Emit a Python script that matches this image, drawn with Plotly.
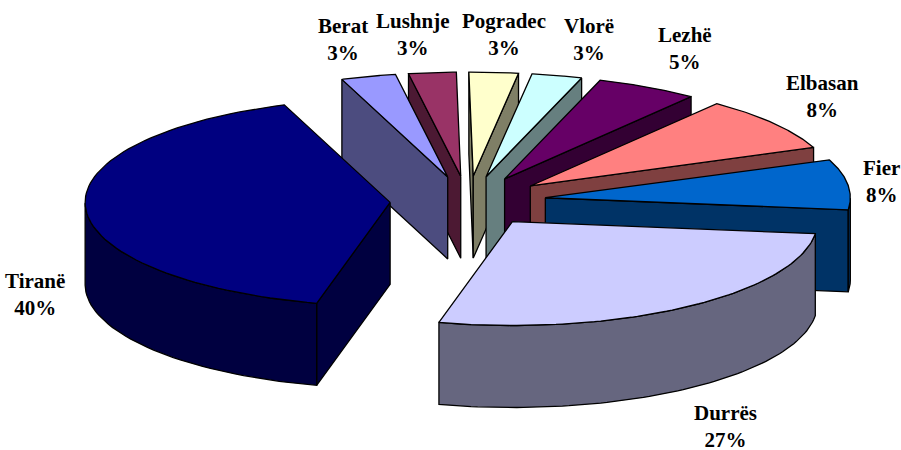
import numpy as np
import plotly.graph_objects as go

cities = ["Tiranë", "Durrës", "Fier", "Elbasan", "Lezhë", "Vlorë", "Pogradec", "Lushnje", "Berat"]
shares = [40.49, 27.01, 7.9, 8.49, 5.4, 2.7, 2.6, 2.51, 2.9]
colors = ["#000080", "#CCCCFF", "#0066CC", "#FF8080", "#660066", "#CCFFFF", "#FFFFCC", "#993366", "#9999FF"]
label_x = [35, 725, 881, 822, 685, 589, 504, 413, 343]
label_y = [294, 426, 181, 96, 48, 39, 34, 34, 39]

# projection of the tilted pie, in page pixels
CX, CY = 468, 201
RX, RY = 305, 104
DEPTH = 82
EXPLODE = 78
EXPLODE_TILT = 0.32
END_ANGLE = 339.7  # clockwise from straight up, where Tiranë ends


def darker(hex_color):
    rgb = [int(hex_color[i:i + 2], 16) // 2 for i in (1, 3, 5)]
    return "#%02x%02x%02x" % tuple(rgb)


def polygon(fig, xs, ys, color):
    fig.add_trace(go.Scatter(
        x=list(xs) + [xs[0]], y=list(ys) + [ys[0]],
        mode="lines", fill="toself", fillcolor=color,
        line=dict(color="black", width=1.3),
        hoverinfo="skip", showlegend=False,
    ))


fig = go.Figure()

# slices run clockwise, the first one after Tiranë is Berat
total = sum(shares)
a = END_ANGLE - shares[0] / total * 360
angle = {0: (a, END_ANGLE)}
a = END_ANGLE - 360
for i in [8, 7, 6, 5, 4, 3, 2, 1]:
    angle[i] = (a, a + shares[i] / total * 360)
    a += shares[i] / total * 360

# paint from the back of the pie to the front
for i in sorted(angle, key=lambda k: -np.cos(np.radians(sum(angle[k]) / 2))):
    a0, a1 = np.radians(angle[i])
    mid = (a0 + a1) / 2
    ax = CX + EXPLODE * np.sin(mid)
    ay = CY - EXPLODE * EXPLODE_TILT * np.cos(mid)
    t = np.linspace(a0, a1, 80)
    px = ax + RX * np.sin(t)
    py = ay - RY * np.cos(t)
    side = darker(colors[i])

    if np.sin(a0) < 0:
        polygon(fig, [ax, px[0], px[0], ax], [ay, py[0], py[0] + DEPTH, ay + DEPTH], side)
    if np.sin(a1) > 0:
        polygon(fig, [ax, px[-1], px[-1], ax], [ay, py[-1], py[-1] + DEPTH, ay + DEPTH], side)

    front = np.cos(t) <= 0
    if front.any():
        fx, fy = px[front], py[front]
        polygon(fig, np.r_[fx, fx[::-1]], np.r_[fy, fy[::-1] + DEPTH], side)

    polygon(fig, np.r_[ax, px], np.r_[ay, py], colors[i])

for name, share, x, y in zip(cities, shares, label_x, label_y):
    fig.add_annotation(
        x=x, y=y, text=f"<b>{name}</b><br><b>{share / total * 100:.0f}%</b>",
        showarrow=False, xref="x", yref="y", align="center",
        font=dict(family="Liberation Serif", size=21, color="black"),
    )

fig.update_xaxes(range=[0, 901], visible=False, fixedrange=True)
fig.update_yaxes(range=[450, 0], visible=False, fixedrange=True)
fig.update_layout(
    width=901, height=450,
    margin=dict(l=0, r=0, t=0, b=0),
    paper_bgcolor="white", plot_bgcolor="white",
    showlegend=False,
)
fig.write_html(
    "out.html",
    config={"displayModeBar": False},
    post_script="document.body.style.margin = '0';",
)
